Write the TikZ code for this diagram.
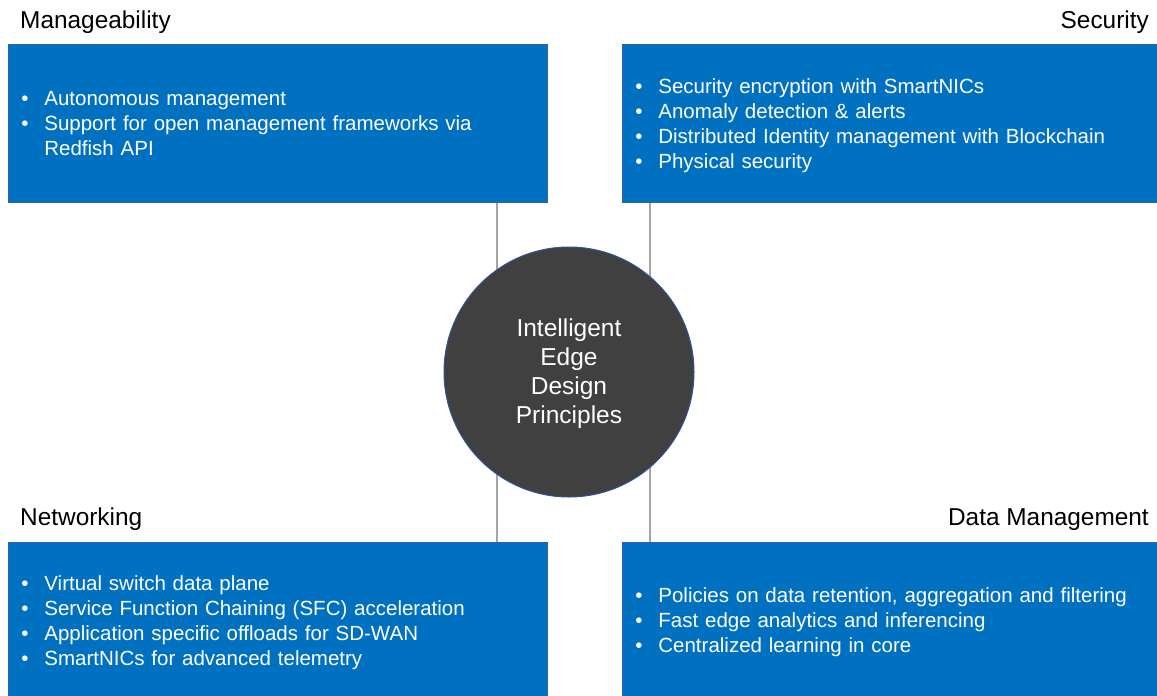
\documentclass[tikz,border=0pt]{standalone}
\usepackage{fontspec}
\setmainfont{Liberation Sans}
\usetikzlibrary{backgrounds}
\definecolor{boxblue}{HTML}{0070C0}
\definecolor{boxedge}{HTML}{2E63A8}
\definecolor{circgray}{HTML}{404040}
\definecolor{circedge}{HTML}{2F5597}
\definecolor{conncol}{HTML}{A6A6A6}
\newcommand\bul{\makebox[23pt][l]{\textbullet}}
\newcommand\fst{\rule{0pt}{22pt}}
\newcommand\lst{\rule[-7pt]{0pt}{7pt}}
\tikzset{
  box/.style={draw=boxedge, line width=0.8pt, fill=boxblue, text=white,
    anchor=north west, inner xsep=13pt, inner ysep=0pt, align=left,
    font=\fontsize{20.5}{25}\selectfont},
  ttl/.style={inner sep=0pt, font=\fontsize{24.4}{28}\selectfont},
  conn/.style={draw=conncol, line width=1.3pt},
  hub/.style={circle, minimum size=250pt, fill=circgray, draw=circedge,
    line width=1pt, text=white, align=center, inner sep=0pt,
    font=\fontsize{24.5}{29}\selectfont}
}
\begin{document}
\begin{tikzpicture}[x=1pt,y=-1pt]
\useasboundingbox (0,0) rectangle (1157,696);
\node[box, minimum width=539pt, minimum height=158pt, text width=513pt] (tl) at (8,44)
  {\fst\bul Autonomous management\\\bul Support for open management frameworks via\\\hspace*{23pt}Redfish API\lst};
\node[box, minimum width=536pt, minimum height=158pt, text width=510pt] (tr) at (622,44)
  {\fst\bul Security encryption with SmartNICs\\\bul Anomaly detection \& alerts\\\bul Distributed Identity management with Blockchain\\\bul Physical security\lst};
\node[box, minimum width=539pt, minimum height=156pt, text width=513pt] (bl) at (8,542)
  {\fst\bul Virtual switch data plane\\\bul Service Function Chaining (SFC) acceleration\\\bul Application specific offloads for SD-WAN\\\bul SmartNICs for advanced telemetry\lst};
\node[box, minimum width=536pt, minimum height=156pt, text width=510pt] (br) at (622,542)
  {\fst\bul Policies on data retention, aggregation and filtering\\\bul Fast edge analytics and inferencing\\\bul Centralized learning in core\lst};
\node[ttl, anchor=base west] (t1) at (20,28.5) {Manageability};
\node[ttl, anchor=base east] (t2) at (1149,28.5) {Security};
\node[ttl, anchor=base west] (t3) at (20,525.5) {Networking};
\node[ttl, anchor=base east] (t4) at (1149,525.5) {Data Management};
\node[hub] (c) at (569,372) {\rule{0pt}{21.5pt}Intelligent\\Edge\\Design\\Principles};
\coordinate (xl) at (497,0);
\coordinate (xr) at (650,0);
\begin{scope}[on background layer]
\draw[conn] (tl.south -| xl) -- (c.center -| xl);
\draw[conn] (tr.south -| xr) -- (c.center -| xr);
\draw[conn] (bl.north -| xl) -- (c.center -| xl);
\draw[conn] (br.north -| xr) -- (c.center -| xr);
\end{scope}
\end{tikzpicture}
\end{document}
